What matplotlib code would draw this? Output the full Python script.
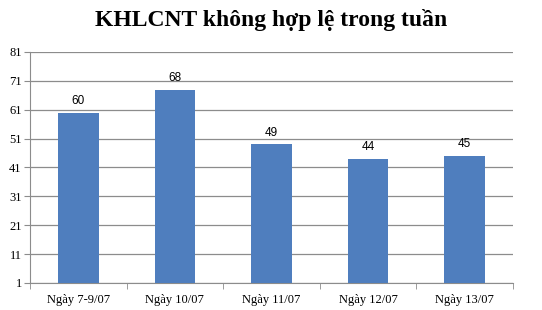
import matplotlib
matplotlib.use("Agg")
import matplotlib.pyplot as plt
import numpy as np

categories = ["Ngày 7-9/07", "Ngày 10/07", "Ngày 11/07", "Ngày 12/07", "Ngày 13/07"]
values = [60, 68, 49, 44, 45]
yticks = [1, 11, 21, 31, 41, 51, 61, 71, 81]

fig = plt.figure(figsize=(5.42, 3.10), dpi=100)
ax = fig.add_axes([0.0554, 0.0871, 0.8911, 0.7452])
x = np.arange(len(categories))
bars = ax.bar(x, values, width=0.42, color="#4F7EBE", zorder=3, bottom=0)
ax.set_ylim(1, 81)
ax.set_xlim(-0.5, len(categories) - 0.5)
ax.set_yticks(yticks)
ax.set_yticklabels([str(t) for t in yticks], fontfamily="Liberation Serif", fontsize=9)
ax.yaxis.grid(True, color="#8c8c8c", linewidth=0.9, zorder=0)
ax.set_xticks(x)
ax.set_xticklabels(categories, fontfamily="Liberation Serif", fontsize=9)
ax.set_xticks(np.arange(-0.5, len(categories)), minor=True)
ax.tick_params(axis="x", which="major", length=0, pad=8)
ax.tick_params(axis="x", which="minor", length=4, color="#8c8c8c")
ax.tick_params(axis="y", length=4, color="#8c8c8c", pad=2)
for s in ["top", "right"]:
    ax.spines[s].set_visible(False)
for s in ["left", "bottom"]:
    ax.spines[s].set_color("#8c8c8c")
for xi, v in zip(x, values):
    ax.text(xi, v + 2, str(v), ha="center", va="bottom", fontsize=8.5, fontfamily="Liberation Sans")
fig.text(0.5, 0.935, "KHLCNT không hợp lệ trong tuần", ha="center", va="center",
         fontfamily="Liberation Serif", fontweight="bold", fontsize=17)
fig.savefig("out.png", dpi=100)
